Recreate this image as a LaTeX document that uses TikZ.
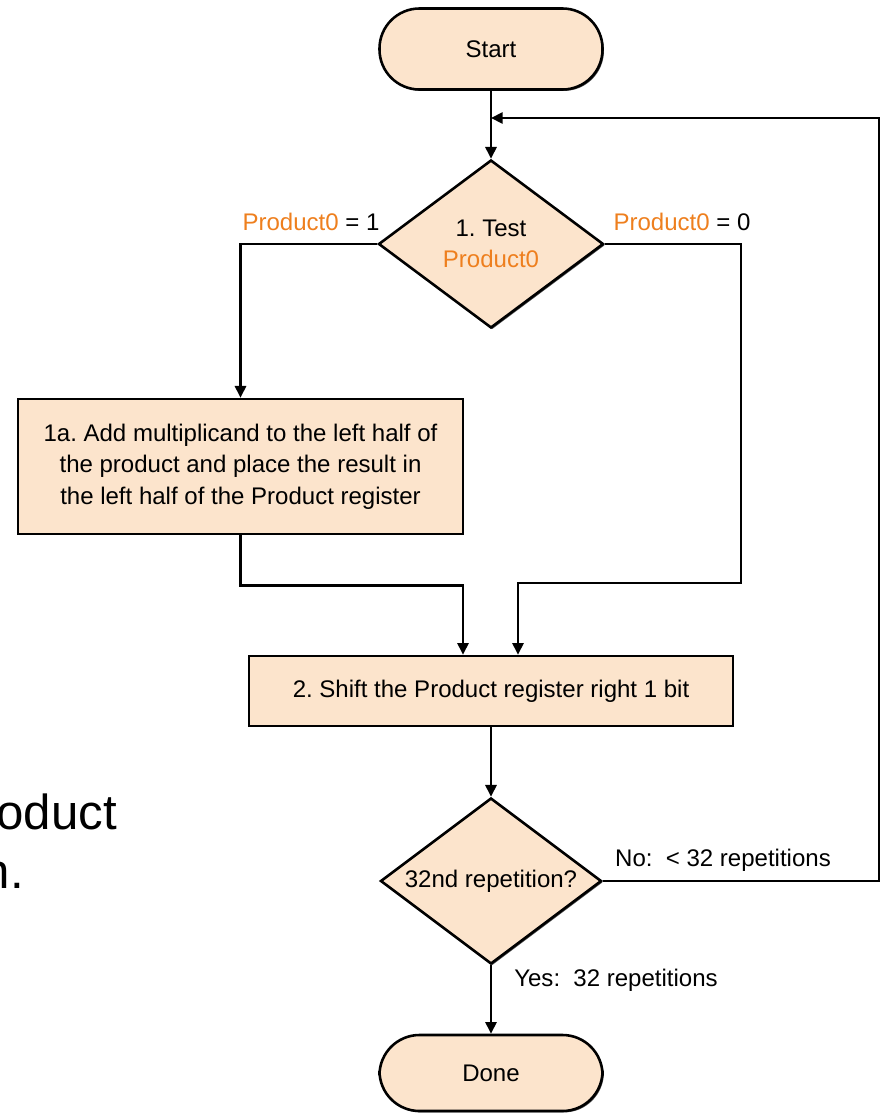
\documentclass[tikz,border=0pt]{standalone}
\usepackage{fontspec}
\setmainfont{Liberation Sans}
\usetikzlibrary{shapes.geometric,arrows.meta,shadows}
\definecolor{stepfill}{HTML}{FCE4CC}
\definecolor{bitorange}{HTML}{EE7F1E}
\tikzset{
  flowline/.style={line width=2.2pt},
  shade box/.style={draw=black,line width=2.2pt,fill=stepfill,
    drop shadow={shadow xshift=1.2pt,shadow yshift=-1.2pt,opacity=1,fill=black!70}},
  terminal/.style={shade box,rectangle,rounded corners=1.2cm,minimum width=6.69cm},
  stepbox/.style={shade box,rectangle,align=center,inner sep=0pt},
  decision/.style={shade box,diamond,aspect=1.33,inner sep=0pt,align=center},
  edgetext/.style={inner sep=0pt}
}
\newcommand{\pzero}{\textcolor{bitorange}{Product0}}
\frenchspacing
\begin{document}
\begin{tikzpicture}[x=0.03cm,y=-0.03cm,>={Triangle[length=10pt,width=9.5pt]},
  every node/.style={font=\fontsize{20.5}{27}\selectfont}]
  \useasboundingbox (0,0) rectangle (881,1116);
  % stray slide text on the left
  \begin{scope}
    \clip (0,0) rectangle (881,1116);
    \node[inner sep=0pt,anchor=base east,font=\fontsize{42}{50}\selectfont] (sliderow1) at (117,829) {roduct};
    \node[inner sep=0pt,anchor=base east,font=\fontsize{42}{50}\selectfont] (sliderow2) at (24,888) {n.};
  \end{scope}
  % nodes
  \node[terminal,minimum height=2.43cm] (start) at (491,49) {Start};
  \node[decision,minimum width=6.75cm,minimum height=5.04cm] (test) at (491,244) {1. Test\\\pzero};
  \node[stepbox,minimum width=13.35cm,minimum height=4.05cm] (add) at (240.5,466.5)
    {1a. Add multiplicand to the left half of\\the product and place the result in\\the left half of the Product register};
  \node[stepbox,minimum width=14.52cm,minimum height=2.1cm] (shift) at (491,691)
    {2. Shift the Product register right 1 bit};
  \node[decision,minimum width=6.63cm,minimum height=4.98cm] (rep) at (491,881) {32nd repetition?};
  \node[terminal,minimum height=2.28cm] (done) at (491,1073) {Done};
  \coordinate (loopin) at (491,118);
  % labels
  \node[edgetext] (lblone) at (311,222) {\pzero{} = 1};
  \node[edgetext] (lblzero) at (682,222) {\pzero{} = 0};
  \node[edgetext] (lblno) at (723,860) {No:\ \ < 32 repetitions};
  \node[edgetext] (lblyes) at (616,980) {Yes:\ \ 32 repetitions};
  % connectors
  \draw[flowline,->] (start) -- (test);
  \draw[flowline,->] (test.west) -| (add.north);
  \draw[flowline,->] (test.east) -| (741,583) -| ([xshift=0.81cm]shift.north);
  \draw[flowline,->] (add.south) -- ++(0,50) -| ([xshift=-0.84cm]shift.north);
  \draw[flowline,->] (shift) -- (rep);
  \draw[flowline,->] (rep.east) -| (879,118) -- (loopin);
  \draw[flowline,->] (rep) -- (done);
\end{tikzpicture}
\end{document}
